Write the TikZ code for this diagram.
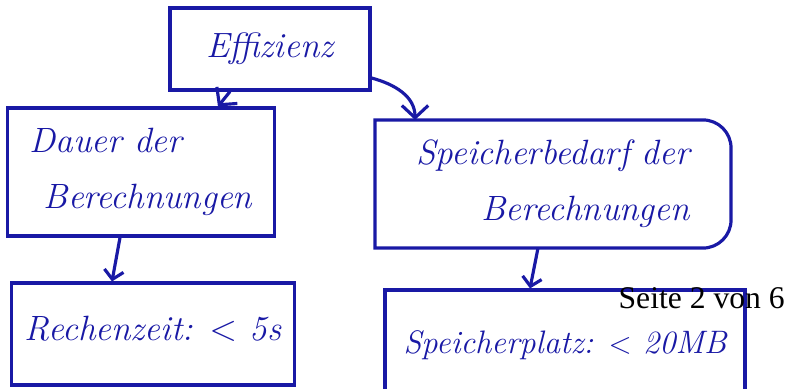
\documentclass[tikz,border=0pt]{standalone}
\usepackage{fontspec}
\newfontfamily\printfont{Liberation Serif}
\usetikzlibrary{arrows.meta}
\definecolor{pen}{RGB}{25,25,165}
\tikzset{
  box/.style={draw=pen, line width=1.8pt, text=pen, inner sep=0pt,
    font=\itshape\fontsize{20}{30}\selectfont},
  link/.style={draw=pen, line width=1.8pt, -{Straight Barb[length=7pt,width=15pt]}},
  hook/.style={draw=pen, line width=1.8pt, -{Straight Barb[length=5pt,width=11pt]}}
}

\begin{document}
\begin{tikzpicture}[x=0.02cm, y=-0.02cm]
\useasboundingbox (0,0) rectangle (785,389);
% Top: Effizienz
\node[box, minimum width=4cm, minimum height=1.64cm] (eff) at (270,49) {Effizienz};
% Left branch
\node[box, minimum width=5.34cm, minimum height=2.56cm, align=left] (dauer) at (141,172)
  {Dauer der\\[2pt]\hspace{0.4em}Berechnungen};
\node[box, minimum width=5.66cm, minimum height=2.04cm] (rechen) at (153,334)
  {\raisebox{6pt}{Rechenzeit: $<$ 5s}};
% Right branch, rounded on the right side only
\node[box, draw=none, minimum width=7.06cm, minimum height=2.5cm, align=right] (speicher) at (553,184)
  {Speicherbedarf der\\[2pt]Berechnungen};
\draw[pen, line width=1.8pt] (speicher.north west) [rounded corners=16pt] -- (speicher.north east)
  -- (speicher.south east) [sharp corners] -- (speicher.south west) -- cycle;
\node[box, minimum width=7.2cm, minimum height=2.2cm, font=\itshape\fontsize{18.5}{30}\selectfont] (platz) at (565,345)
  {Speicherplatz: $<$ 20MB};
% Page footer
\node[anchor=east, inner sep=0pt, font=\printfont\fontsize{18}{20}\selectfont] (seite) at (785,298) {Seite 2 von 6};
% Arrows
\draw[link] ([xshift=-0.8cm]eff.south) -- ([xshift=1.54cm]dauer.north);
\draw[link] ([yshift=-0.58cm]eff.east) to[out=-15, in=90] ([xshift=-2.76cm]speicher.north);
\draw[hook] ([xshift=-0.42cm]dauer.south) -- ([xshift=-0.82cm]rechen.north);
\draw[hook] ([xshift=-0.3cm]speicher.south) -- ([xshift=-0.7cm]platz.north);
\end{tikzpicture}
\end{document}
